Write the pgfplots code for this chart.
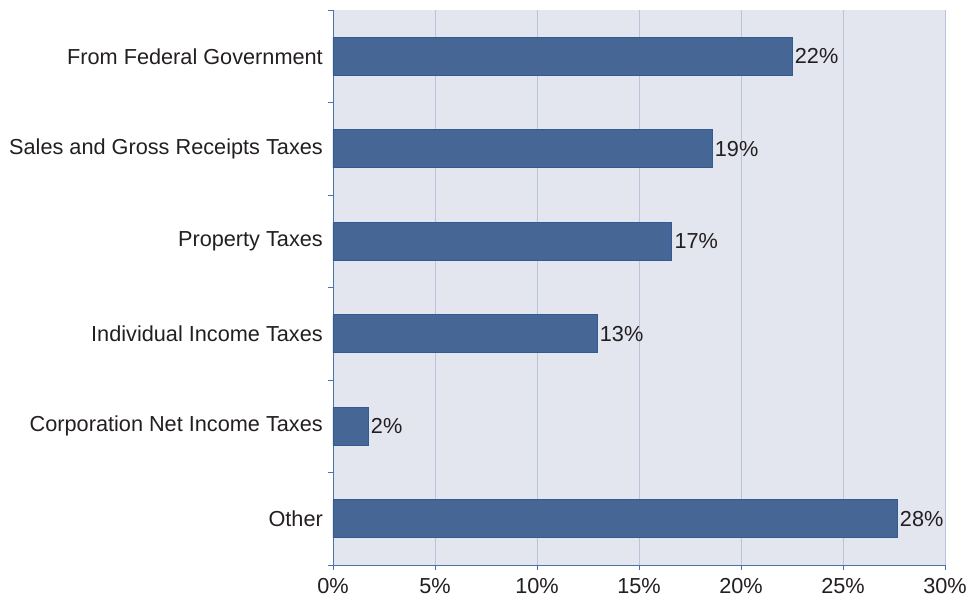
\documentclass[border=0pt]{standalone}
\usepackage{pgfplots}
\pgfplotsset{compat=1.18}
\usepackage{fontspec}
\setmainfont{Liberation Sans}
\definecolor{bg}{RGB}{227,229,239}
\definecolor{gridc}{RGB}{188,194,218}
\definecolor{axc}{RGB}{74,116,168}
\definecolor{barfill}{RGB}{70,103,150}
\definecolor{baredge}{RGB}{50,92,145}
\definecolor{txt}{RGB}{35,31,32}
\newcommand{\lf}{\fontsize{21.7bp}{25bp}\selectfont}
\begin{document}
\begin{tikzpicture}
\path[use as bounding box] (-333bp,-33bp) rectangle (642bp,565bp);
\begin{axis}[
  at={(0,0)}, anchor=south west,
  scale only axis, width=612bp, height=555bp,
  xmin=0, xmax=30, ymin=-0.5, ymax=5.5, y dir=reverse,
  axis background/.style={fill=bg},
  axis x line*=bottom, axis y line*=left,
  axis line style={axc, line width=0.9bp},
  xtick={0,5,...,30},
  xticklabels={0\%,5\%,10\%,15\%,20\%,25\%,30\%},
  xmajorgrids, major grid style={gridc, line width=0.9bp},
  ytick={0,...,5},
  yticklabels={From Federal Government,Sales and Gross Receipts Taxes,Property Taxes,Individual Income Taxes,Corporation Net Income Taxes,Other},
  minor ytick={-0.5,0.5,...,5.5},
  tick align=outside,
  major tick length=5bp, minor tick length=5bp,
  x tick style={axc, line width=0.9bp},
  major y tick style={draw=none},
  minor y tick style={axc, line width=0.9bp},
  ticklabel style={font=\lf, text=txt},
  yticklabel style={inner sep=0pt, xshift=-5bp},
  xticklabel style={inner sep=0pt, yshift=-8bp},
  clip=false,
]
\addplot[xbar, bar width=38bp, fill=barfill, draw=baredge, line width=0.8bp,
  nodes near coords, point meta=explicit symbolic,
  every node near coord/.append style={anchor=west, font=\lf, text=txt, inner sep=2.5bp}]
  coordinates {
    (22.5,0) [22\%]
    (18.58,1) [19\%]
    (16.6,2) [17\%]
    (12.94,3) [13\%]
    (1.72,4) [2\%]
    (27.65,5) [28\%]
  };
\end{axis}
\end{tikzpicture}
\end{document}
